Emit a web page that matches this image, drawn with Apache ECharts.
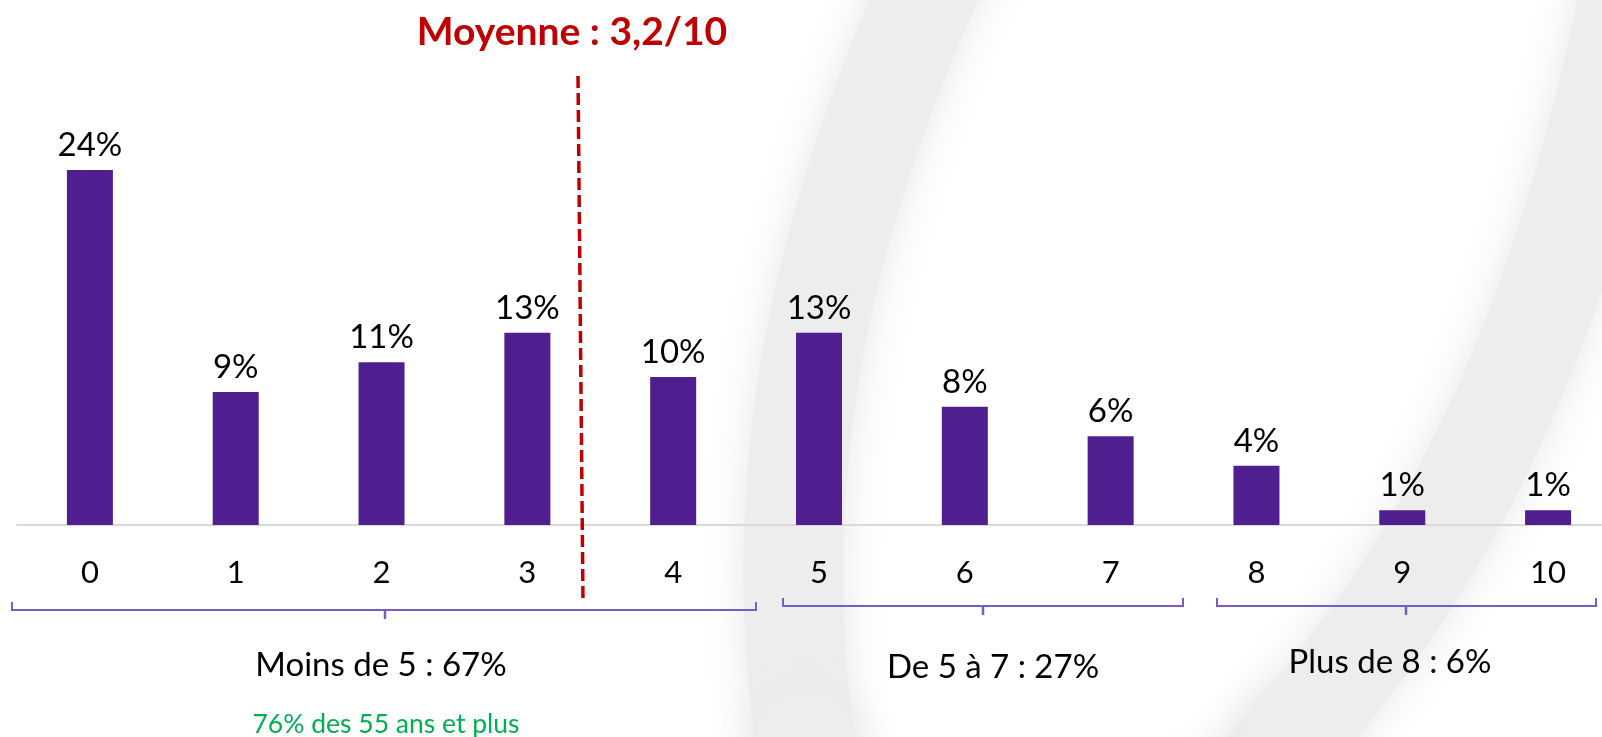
<!DOCTYPE html>
<html>
<head>
<meta charset="utf-8">
<script src="https://cdn.jsdelivr.net/npm/echarts@6/dist/echarts.min.js"></script>
<style>
    html, body { margin: 0; padding: 0; background: #fff; }
    #barChart { width: 1602px; height: 737px; }
</style>
</head>
<body>
<div id="barChart"></div>
<script>
    // notes de 0 a 10 et part des repondants (%)
    const notes = ['0', '1', '2', '3', '4', '5', '6', '7', '8', '9', '10']
    const parts = [24, 9, 11, 13, 10, 13, 8, 6, 4, 1, 1]
    const groupLabels = ['Moins de 5 : 67%', 'De 5 à 7 : 27%', 'Plus de 8 : 6%']
    const meanText = 'Moyenne : 3,2/10'
    const subNote = '76% des 55 ans et plus'

    const FONT = 'Lato, "Open Sans", sans-serif'
    const bracketColor = '#7a5cbf'

    // accolade sous l'axe
    function bracket(x1, x2, xc, y) {
        return [{
            type: 'polyline',
            shape: { points: [[x1, y - 8], [x1, y], [x2, y], [x2, y - 8]] },
            style: { stroke: bracketColor, lineWidth: 2, fill: null }
        }, {
            type: 'line',
            shape: { x1: xc, y1: y, x2: xc, y2: y + 9 },
            style: { stroke: bracketColor, lineWidth: 2.5 }
        }]
    }

    function label(text, x, y, size, color) {
        return {
            type: 'text', x: x, y: y, z: 10,
            style: {
                text: text, fill: color, fontSize: size, fontFamily: FONT,
                align: 'center', verticalAlign: 'middle'
            }
        }
    }

    // filigrane gris (forme du logo) en fond
    function swoosh(x1, y1, cpx1, cpy1, cpx2, cpy2, x2, y2) {
        return {
            type: 'bezierCurve', z: -10, silent: true,
            shape: { x1, y1, cpx1, cpy1, cpx2, cpy2, x2, y2 },
            style: {
                fill: null, stroke: '#ededed', lineWidth: 100, lineCap: 'round',
                shadowBlur: 45, shadowColor: '#e8e8e8'
            }
        }
    }

    let barChart = echarts.init(document.getElementById('barChart'))
    barChart.setOption({
        animation: false,
        title: {
            text: meanText,
            left: 567,
            top: 8,
            textAlign: 'center',
            textStyle: { color: '#C00000', fontSize: 39, fontWeight: 'bold', fontFamily: FONT }
        },
        grid: { left: 17, width: 1604, top: 170, bottom: 212, outerBoundsMode: 'none', containLabel: false },
        xAxis: {
            type: 'category',
            data: notes,
            axisTick: { show: false },
            axisLine: { lineStyle: { color: '#d9d9d9', width: 2 } },
            axisLabel: { color: '#000', fontSize: 31, fontFamily: FONT, margin: 32 }
        },
        yAxis: {
            type: 'value',
            min: 0,
            max: 24,
            show: false,
            splitLine: { show: false }
        },
        graphic: [
            swoosh(960, -80, 850, 150, 760, 420, 805, 740),
            swoosh(805, 740, 830, 900, 1180, 900, 1290, 740),
            swoosh(1290, 740, 1420, 590, 1560, 380, 1640, -60),
            // ligne de la moyenne
            {
                type: 'line', z: 10,
                shape: { x1: 578, y1: 76, x2: 583, y2: 601 },
                style: { stroke: '#C00000', lineWidth: 3.5, lineDash: [12, 5] }
            },
            ...bracket(12, 756, 385, 610),
            ...bracket(783, 1183, 983, 606),
            ...bracket(1217, 1596, 1406, 606),
            label(groupLabels[0], 381, 665, 33, '#000'),
            label(groupLabels[1], 993, 667, 33, '#000'),
            label(groupLabels[2], 1390, 662, 33, '#000'),
            label(subNote, 386, 724, 26.5, '#00B050')
        ],
        series: [{
            type: 'bar',
            data: parts,
            barWidth: 46,
            itemStyle: { color: '#4F1E8F' },
            label: {
                show: true,
                position: 'top',
                distance: 8,
                formatter: '{c}%',
                color: '#000',
                fontSize: 33,
                fontFamily: FONT
            }
        }]
    })
</script>
</body>
</html>
